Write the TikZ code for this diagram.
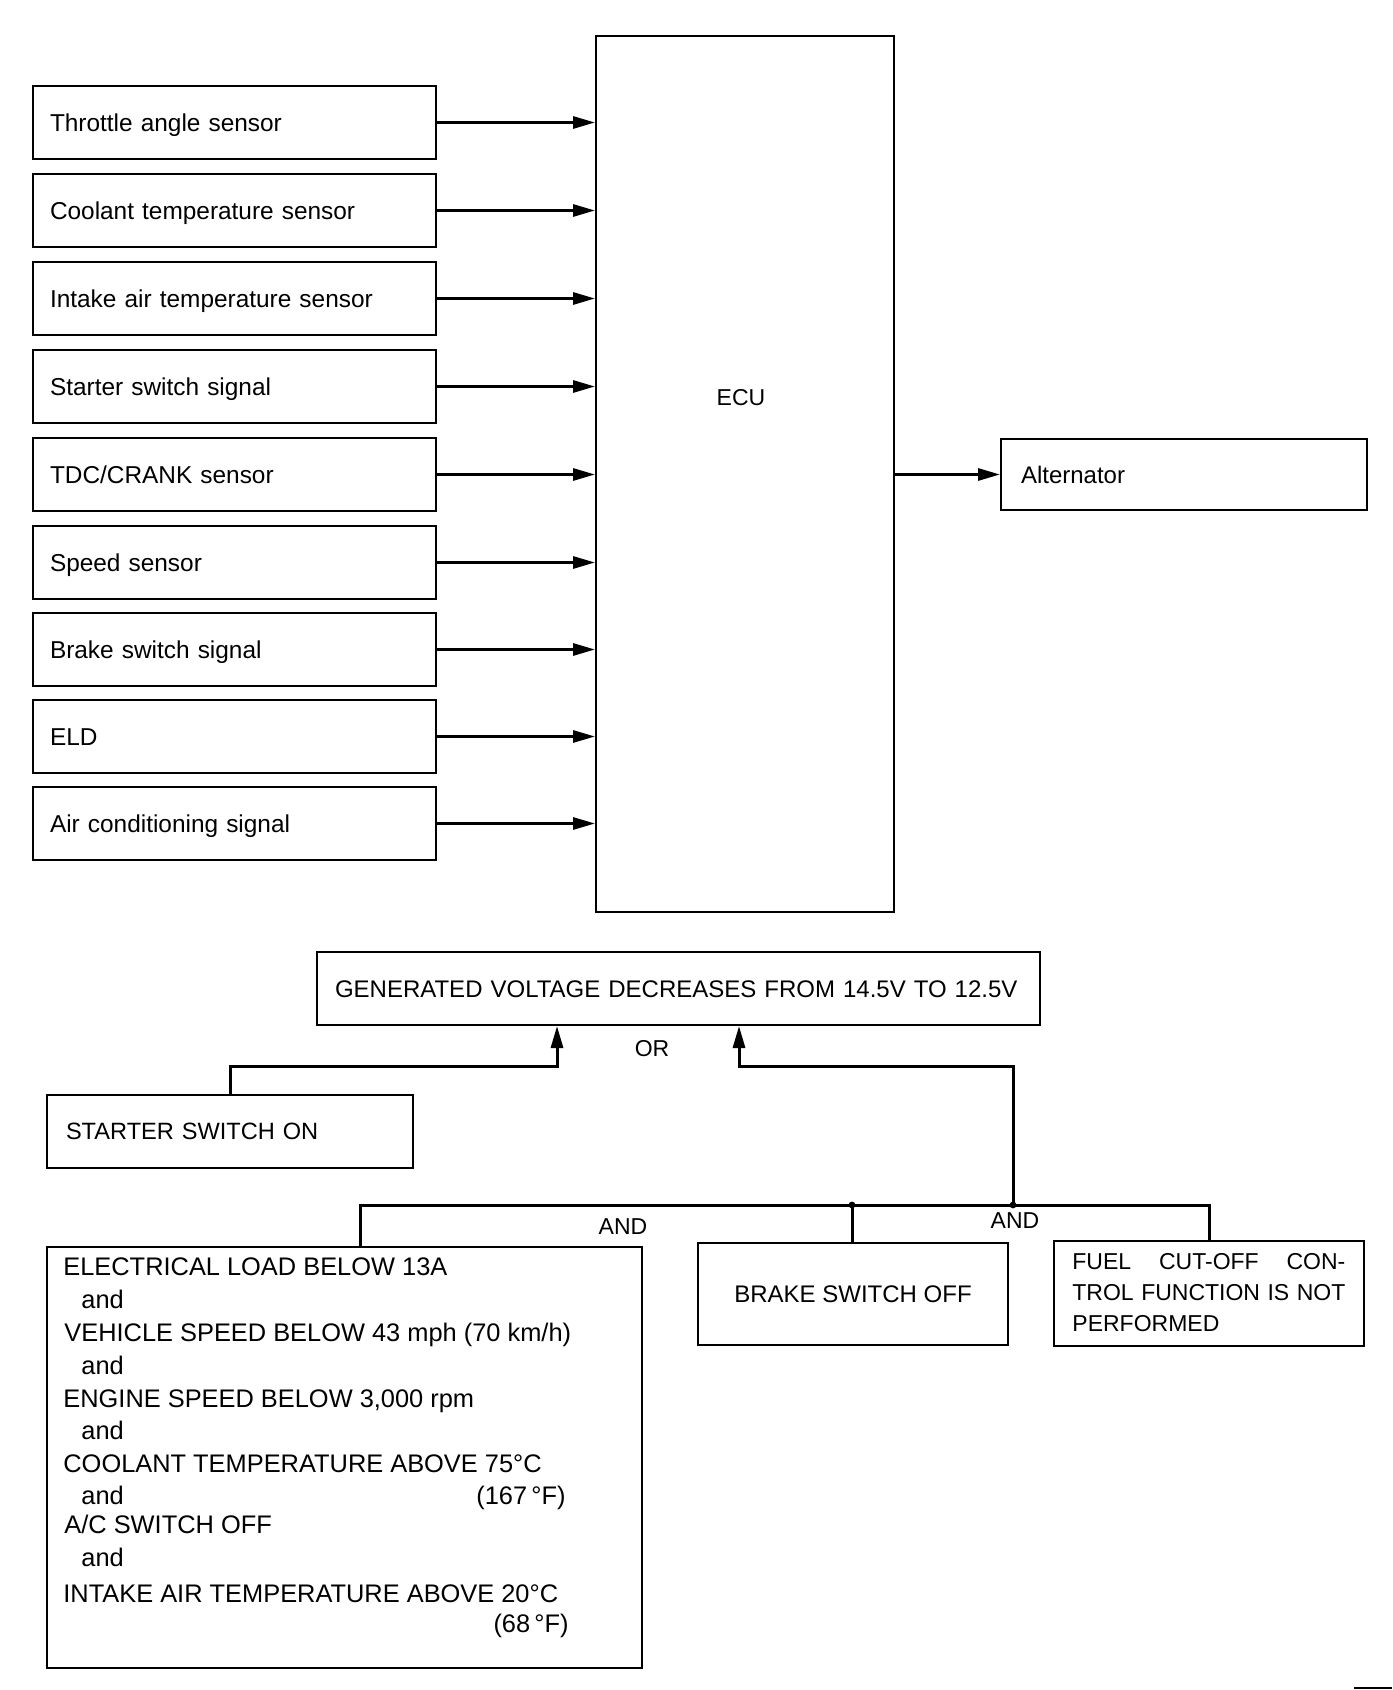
\documentclass[tikz,border=0pt]{standalone}
\usepackage{fontspec}
\setmainfont{Liberation Sans}
\usetikzlibrary{arrows.meta}
\begin{document}
\begin{tikzpicture}[x=0.5pt,y=-0.5pt,
  box/.style={draw, line width=1pt, anchor=north west, inner sep=0pt},
  sbox/.style={box, minimum width=201.5pt, minimum height=36.5pt, inner xsep=8.5pt, text width=184.5pt, align=left, text height=8.6pt, text depth=0pt, font=\fontsize{12.2}{14}\selectfont},
  arr/.style={line width=1.5pt, -{Triangle[length=11pt,width=6pt]}},
  conn/.style={line width=1.5pt},
  lbl/.style={inner sep=0pt, anchor=west, text height=9pt, text depth=0pt, font=\fontsize{12.7}{14}\selectfont},
  flbl/.style={inner sep=0pt, anchor=west, text height=8.3pt, text depth=0pt, font=\fontsize{11.5}{13}\selectfont},
  tag/.style={inner sep=0pt, text height=8.3pt, text depth=0pt, font=\fontsize{11.5}{13}\selectfont}
]
\useasboundingbox (0,0) rectangle (1392,1690);

% ECU
\node[box, minimum width=149pt, minimum height=438pt] (ecu) at (595,35) {};
\node[tag] (ecul) at (741,397) {ECU};

% sensors
\foreach \i/\yy/\t in {1/85/{Throttle angle sensor},2/173/{Coolant temperature sensor},3/261/{Intake air temperature sensor},4/349/{Starter switch signal},5/437/{TDC/CRANK sensor},6/525/{Speed sensor},7/612/{Brake switch signal},8/699/{ELD},9/786/{Air conditioning signal}}{
  \node[sbox] (s\i) at (32,\yy) {\t};
  \draw[arr] (s\i.east) -- (s\i.east -| ecu.west);
}

% alternator
\node[box, minimum width=183pt, minimum height=35.5pt, inner xsep=10pt, text width=163pt, align=left, text height=8.6pt, text depth=0pt, font=\fontsize{12}{14}\selectfont] (alt) at (1000,438) {Alternator};
\draw[arr] (alt.west -| ecu.east) -- (alt.west);

% generated voltage
\node[box, minimum width=361.5pt, minimum height=36.5pt, inner xsep=9pt, text width=343.5pt, align=left, text height=8.6pt, text depth=0pt, font=\fontsize{12}{14}\selectfont] (gen) at (316,951) {GENERATED VOLTAGE DECREASES FROM 14.5V TO 12.5V};
\node[tag] (orl) at (652,1048) {OR};

% starter switch on
\node[box, minimum width=183pt, minimum height=36.5pt, inner xsep=9.5pt, text width=164pt, align=left, text height=8.4pt, text depth=0pt, font=\fontsize{11.8}{14}\selectfont] (st) at (46,1094) {STARTER SWITCH ON};

% condition boxes
\node[box, minimum width=297.5pt, minimum height=210.5pt] (el) at (46,1246) {};
\node[box, minimum width=155pt, minimum height=51pt, text height=8.6pt, text depth=0pt, font=\fontsize{12}{14}\selectfont] (bk) at (697,1242) {BRAKE SWITCH OFF};
\node[box, minimum width=155pt, minimum height=52.5pt] (fu) at (1053,1240) {};

% electrical box text
\node[lbl] (e1) at (63,1266) {ELECTRICAL LOAD BELOW 13A};
\node[lbl] (a1) at (81,1299) {and};
\node[lbl] (e2) at (64,1332) {VEHICLE SPEED BELOW 43 mph (70 km/h)};
\node[lbl] (a2) at (81,1365) {and};
\node[lbl] (e3) at (63,1398) {ENGINE SPEED BELOW 3,000 rpm};
\node[lbl] (a3) at (81,1430) {and};
\node[lbl] (e4) at (63,1463) {COOLANT TEMPERATURE ABOVE 75°C};
\node[lbl] (a4) at (81,1495) {and};
\node[lbl, anchor=east] (f4) at (566,1495) {(167\,°F)};
\node[lbl] (e5) at (64,1524) {A/C SWITCH OFF};
\node[lbl] (a5) at (81,1557) {and};
\node[lbl] (e6) at (63,1593) {INTAKE AIR TEMPERATURE ABOVE 20°C};
\node[lbl, anchor=east] (f6) at (569,1623) {(68\,°F)};

% fuel box text
\node[flbl] (g1) at (1072,1261) {\makebox[136.5pt][s]{FUEL CUT-OFF CON-}};
\node[flbl] (g2) at (1072,1292) {\makebox[136.5pt][s]{TROL FUNCTION IS NOT}};
\node[flbl] (g3) at (1072,1323) {PERFORMED};

% connectors to generated box
\coordinate (lt) at (230,1066);
\coordinate (rt) at (557,1066);
\coordinate (ru) at (739,1066);
\coordinate (bl) at (360,1205);
\coordinate (j1) at (852,1205);
\coordinate (j2) at (1013,1205);
\coordinate (bre) at (1209,1205);
\draw[arr] (lt |- st.north) -- (lt) -- (rt) -- (rt |- gen.south);
\draw[arr] (j2) -- (j2 |- ru) -- (ru) -- (ru |- gen.south);
\draw[conn] (bl |- el.north) -- (bl) -- (bre) -- (bre |- fu.north);
\draw[conn] (j1) -- (j1 |- bk.north);
\fill (j1) circle[radius=1.7pt];
\fill (j2) circle[radius=1.7pt];
\node[tag] (and1) at (623,1226) {AND};
\node[tag] (and2) at (1015,1220) {AND};

% corner mark
\draw[line width=1.2pt] (1354,1688) -- (1392,1688);
\end{tikzpicture}
\end{document}
